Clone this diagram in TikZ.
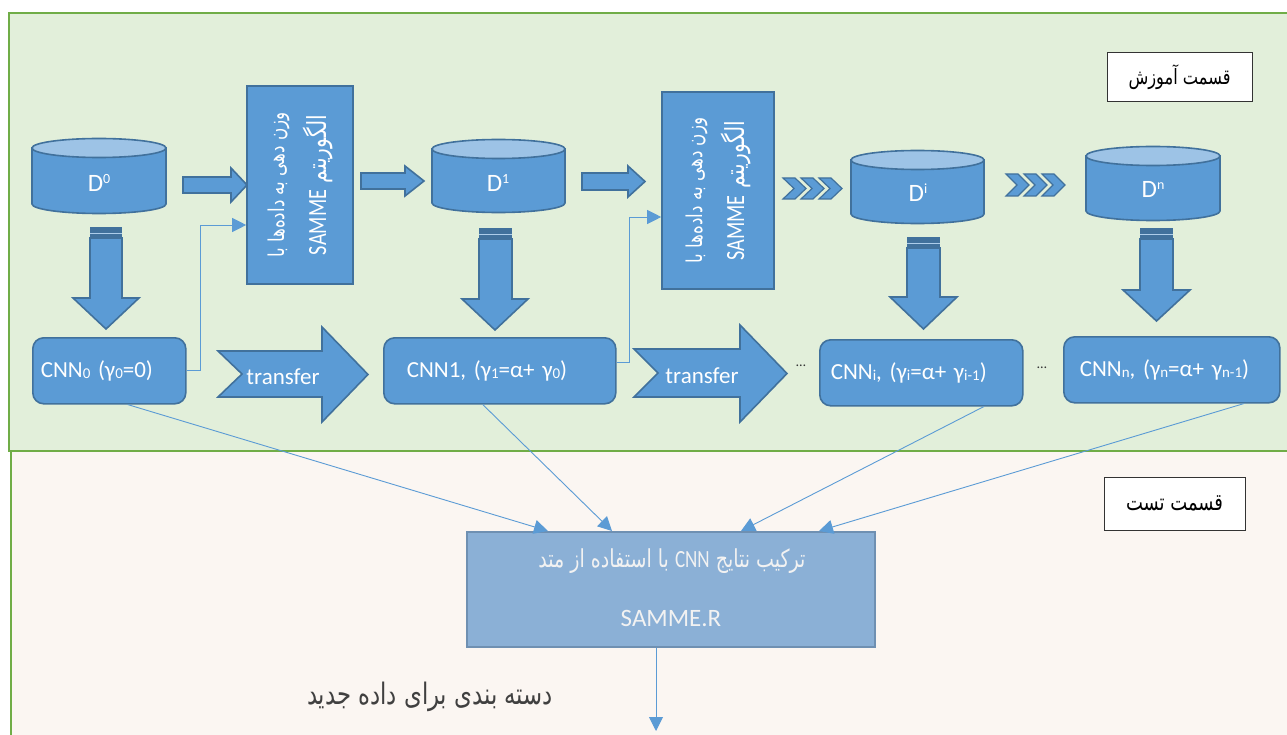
\documentclass[tikz,border=0pt]{standalone}
\usepackage{fontspec}
\usepackage{graphicx}
\setmainfont{Carlito}
\newfontfamily\arabicfont[Script=Arabic]{DejaVu Sans}
\TeXXeTstate=1
\usetikzlibrary{arrows.meta}
\definecolor{blueF}{HTML}{5B9BD5}
\definecolor{blueD}{HTML}{41719C}
\definecolor{blueL}{HTML}{9DC3E6}
\definecolor{greenBg}{HTML}{E2EFDA}
\definecolor{greenB}{HTML}{70AD47}
\definecolor{testBg}{HTML}{FBF6F2}
\definecolor{combF}{HTML}{8BB0D6}
\definecolor{combD}{HTML}{6F90B2}
\definecolor{txtG}{HTML}{404040}
\newcommand\fitw[2]{\resizebox{#1}{!}{\scalebox{1}[1.3]{#2}}}
\newcommand\sbs[1]{\raisebox{-1.5pt}{\fontsize{15}{15}\selectfont #1}}
\newcommand\sps[1]{\raisebox{8pt}{\fontsize{14}{14}\selectfont #1}}
\newcommand\fa[1]{{\arabicfont\beginR #1\endR}}
\newcommand\rarrow[7]{\filldraw[bshape] (#1,#4) -- (#2,#4) -- (#2,#6) -- (#3,{(#6+#7)/2}) -- (#2,#7) -- (#2,#5) -- (#1,#5) -- cycle;}
\newcommand\narrow[8]{\filldraw[bshape] (#1,#5) -- (#3,#5) -- (#3,#7) -- (#4,{(#7+#8)/2}) -- (#3,#8) -- (#3,#6) -- (#1,#6) -- (#2,{(#5+#6)/2}) -- cycle;}
\newcommand\onechev[3]{\filldraw[bshape, line width=1.2pt] (#1,#2) -- ({#1+12},#2) -- ({#1+23},{(#2+#3)/2}) -- ({#1+12},#3) -- (#1,#3) -- ({#1+11},{(#2+#3)/2}) -- cycle;}
\newcommand\chevs[3]{\onechev{#1}{#2}{#3}\onechev{#1+18}{#2}{#3}\onechev{#1+36}{#2}{#3}}
\newcommand\cyl[5]{\filldraw[bshape] (#1,#3) -- (#1,#4) arc[start angle=180,end angle=360,x radius=#2pt,y radius=#5pt] -- ({#1+2*#2},#3) -- cycle;
 \filldraw[cyltop] ({#1+#2},#3) ellipse[x radius=#2pt,y radius=#5pt];}
\newcommand\darrow[7]{\filldraw[bshape] (#1,{#3+11}) -- (#1,#4) -- (#5,#4) -- ({(#5+#6)/2},#7) -- (#6,#4) -- (#2,#4) -- (#2,{#3+11}) -- cycle;
 \fill[blueD] (#1,#3) rectangle (#2,{#3+11});
 \draw[blueF!50!white, line width=0.8pt] (#1,{#3+6}) -- (#2,{#3+6});}
\tikzset{
 bshape/.style={fill=blueF, draw=blueD, line width=1.6pt, line join=miter},
 cyltop/.style={fill=blueL, draw=blueD, line width=1.6pt},
 dlabel/.style={text=white, font=\fontsize{25}{25}\selectfont, inner sep=0},
 sbox/.style={fill=blueF, draw=blueD, line width=1.6pt, text=white, align=center, inner sep=0, font=\fontsize{18}{24}\selectfont},
 cnnbox/.style={fill=blueF, draw=blueD, line width=1.6pt, rounded corners=11pt, text=white, align=left, minimum height=66, font=\fontsize{23}{23}\selectfont, anchor=north west, inner ysep=0},
 thinarrow/.style={draw=blueF, line width=0.9pt, -{Triangle[length=14pt,width=14pt]}},
 tlabel/.style={text=white, font=\fontsize{23}{23}\selectfont, inner sep=0},
 partbox/.style={fill=white, draw=black!80, line width=1pt, inner sep=0},
 combbox/.style={fill=combF, draw=combD, line width=2pt},
 dotlabel/.style={font=\fontsize{14}{14}\selectfont, text=black!80, inner sep=0}
}
\begin{document}
\begin{tikzpicture}[x=1pt,y=-1pt]
\useasboundingbox (0,0) rectangle (1287,735);
\fill[white] (0,0) rectangle (1287,735);
% regions
\filldraw[fill=greenBg, draw=greenB, line width=2pt] (9,13) rectangle (1300,451);
\fill[testBg] (11,452) rectangle (1300,745);
\draw[greenB, line width=2pt] (10.5,451) -- (10.5,745);
% cylinders
\cyl{32}{67}{148}{204}{9.5}
\cyl{432}{66.5}{149}{203}{9.5}
\cyl{851}{66.5}{160}{214}{9.5}
\cyl{1086}{67}{156}{211}{9.5}
\node[dlabel] (d0) at (99,183) {D\sps{0}};
\node[dlabel] (d1) at (498,183) {D\sps{1}};
\node[dlabel] (di) at (918,193) {D\sps{i}};
\node[dlabel] (dn) at (1153,189) {D\sps{n}};
% right block arrows
\rarrow{183}{231}{247}{177}{193}{168}{202}
\rarrow{361}{405}{424}{173}{189}{166}{196}
\rarrow{582}{628}{645}{173}{190}{166}{197}
% chevrons
\chevs{783}{178}{199}
\chevs{1006}{174}{196}
% down arrows
\darrow{90}{122}{227}{298}{73}{139}{329}
\darrow{479}{512}{228}{299}{462}{528}{330}
\darrow{907}{940}{237}{297}{890}{957}{329}
\darrow{1140}{1173}{228}{290}{1123}{1190}{321}
% transfer arrows
\narrow{218}{242}{322}{368}{351}{397}{327}{422}
\narrow{634}{658}{740}{787}{349}{397}{325}{422}
\node[tlabel] (tr1) at (283,377) {transfer};
\node[tlabel] (tr2) at (702,376) {transfer};
% SAMME weighting boxes
\node[sbox, rotate=90, minimum width=198, minimum height=106] (s1) at (300,185)
 {\fitw{146pt}{\fa{وزن دهی به داده‌ها با}}\\[12pt] \fitw{140pt}{{\arabicfont\beginR الگوریتم \beginL{\rmfamily SAMME}\endL\endR}}};
\node[sbox, rotate=90, minimum width=197, minimum height=112] (s2) at (718,190.5)
 {\fitw{146pt}{\fa{وزن دهی به داده‌ها با}}\\[12pt] \fitw{140pt}{{\arabicfont\beginR الگوریتم \beginL{\rmfamily SAMME}\endL\endR}}};
% CNN boxes
\node[cnnbox, inner xsep=8, text width=137] (cnn0) at (32,337) {\mbox{CNN\sbs{0} (γ\sbs{0}=0)}};
\node[cnnbox, inner xsep=23, text width=186] (cnn1) at (383,337) {\mbox{CNN1, (γ\sbs{1}=α+ γ\sbs{0})}};
\node[cnnbox, inner xsep=11, text width=181] (cnni) at (819,339) {\mbox{CNN\sbs{i}, (γ\sbs{i}=α+ γ\sbs{i-1})}};
\node[cnnbox, inner xsep=16, text width=184] (cnnn) at (1063,336) {\mbox{CNN\sbs{n}, (γ\sbs{n}=α+ γ\sbs{n-1})}};
\node[dotlabel] (dots1) at (801,366) {\dots};
\node[dotlabel] (dots2) at (1042,368) {\dots};
% part labels
\node[partbox, minimum width=145, minimum height=49] (train) at (1179.5,77.5) {\fitw{102pt}{\fa{قسمت آموزش}}};
\node[partbox, minimum width=141, minimum height=53] (test) at (1174.5,503.5) {\fitw{97pt}{\fa{قسمت تست}}};
% combination box
\node[combbox, minimum width=408, minimum height=115] (comb) at (671,589.5) {};
\node[text=white!95!black, inner sep=0] (combt1) at (672,561) {\fitw{267pt}{{\arabicfont\beginR ترکیب نتایج \beginL{\rmfamily CNN}\endL{} با استفاده از متد\endR}}};
\node[text=white!95!black, font=\fontsize{25}{25}\selectfont, inner sep=0] (combt2) at (671,618) {SAMME.R};
\node[text=txtG, inner sep=0] (cls) at (430,697) {\fitw{246pt}{\fa{دسته بندی برای داده جدید}}};
% thin connectors
\coordinate (h1) at (200,225);
\draw[thinarrow] (cnn0.east) -| (h1) -- (s1.north |- h1);
\coordinate (h2) at (629,217);
\draw[thinarrow] ([yshift=8pt]cnn1.east) -| (h2) -- (s2.north |- h2);
\draw[thinarrow] ([xshift=18.5pt]cnn0.south) -- ([xshift=-123pt]comb.north);
\draw[thinarrow] ([xshift=-17pt]cnn1.south) -- ([xshift=-59pt]comb.north);
\draw[thinarrow] ([xshift=62.5pt]cnni.south) -- ([xshift=70pt]comb.north);
\draw[thinarrow] ([xshift=72pt]cnnn.south) -- ([xshift=148pt]comb.north);
\coordinate (out) at (656,731);
\draw[thinarrow] ([xshift=-15pt]comb.south) -- (out);
\end{tikzpicture}
\end{document}
